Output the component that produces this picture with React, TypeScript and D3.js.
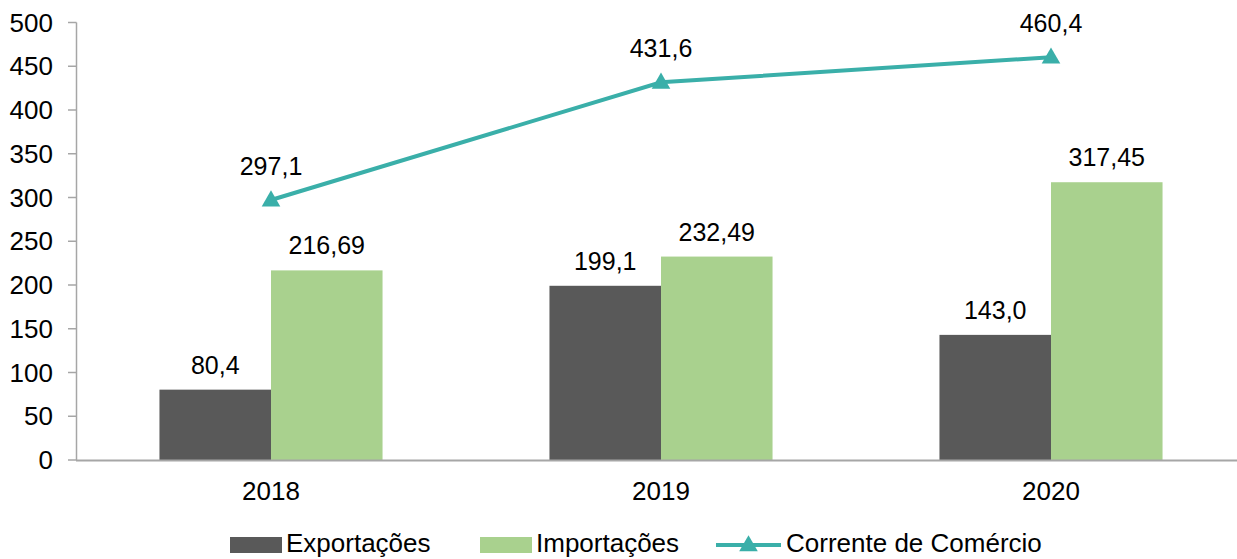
import React from "react";
import * as d3 from "d3";

const categories = ["2018", "2019", "2020"];
const exportacoes = [80.4, 199.1, 143.0];
const importacoes = [216.69, 232.49, 317.45];
const corrente = [297.1, 431.6, 460.4];
const exportLabels = ["80,4", "199,1", "143,0"];
const importLabels = ["216,69", "232,49", "317,45"];
const correnteLabels = ["297,1", "431,6", "460,4"];
const yTicks = [0, 50, 100, 150, 200, 250, 300, 350, 400, 450, 500];
const seriesNames = ["Exportações", "Importações", "Corrente de Comércio"];

const W = 1237;
const H = 559;
const FONT = "'Liberation Sans', Arial, Helvetica, sans-serif";
const C_EXP = "#595959";
const C_IMP = "#A9D18E";
const C_LINE = "#3AAFA9";
const C_AXIS = "#A6A6A6";

export default function App() {
  const x0 = d3
    .scaleBand<string>()
    .domain(categories)
    .range([76, 1246])
    .paddingInner(0.428)
    .paddingOuter(0.214);
  const x1 = d3
    .scaleBand<string>()
    .domain(["exp", "imp"])
    .range([0, x0.bandwidth()]);
  const y = d3.scaleLinear().domain([0, 500]).range([460, 22.5]);
  const cx = (c: string) => (x0(c) as number) + x0.bandwidth() / 2;

  const line = d3
    .line<number>()
    .x((_, i) => cx(categories[i]))
    .y((d) => y(d));

  const tri = d3.symbol().type(d3.symbolTriangle).size(150)();

  return (
    <svg
      width={W}
      height={H}
      style={{ position: "absolute", left: 0, top: 0, background: "#fff" }}
      fontFamily={FONT}
    >
      {/* y axis */}
      <line x1={76.5} x2={76.5} y1={y(500)} y2={y(0)} stroke={C_AXIS} strokeWidth={1.5} />
      {yTicks.map((t) => (
        <g key={t}>
          <line x1={68} x2={76.5} y1={y(t)} y2={y(t)} stroke={C_AXIS} strokeWidth={1.5} />
          <text x={53} y={y(t)} dy="0.35em" textAnchor="end" fontSize={26} fill="#000">
            {t}
          </text>
        </g>
      ))}

      {/* bars */}
      {categories.map((c, i) => (
        <g key={c}>
          <rect
            x={(x0(c) as number) + (x1("exp") as number)}
            y={y(exportacoes[i])}
            width={x1.bandwidth()}
            height={y(0) - y(exportacoes[i])}
            fill={C_EXP}
          />
          <rect
            x={(x0(c) as number) + (x1("imp") as number)}
            y={y(importacoes[i])}
            width={x1.bandwidth()}
            height={y(0) - y(importacoes[i])}
            fill={C_IMP}
          />
          <text
            x={(x0(c) as number) + (x1("exp") as number) + x1.bandwidth() / 2}
            y={y(exportacoes[i]) - 16}
            textAnchor="middle"
            fontSize={25}
            fill="#000"
          >
            {exportLabels[i]}
          </text>
          <text
            x={(x0(c) as number) + (x1("imp") as number) + x1.bandwidth() / 2}
            y={y(importacoes[i]) - 16}
            textAnchor="middle"
            fontSize={25}
            fill="#000"
          >
            {importLabels[i]}
          </text>
          <text x={cx(c)} y={500} textAnchor="middle" fontSize={26} fill="#000">
            {c}
          </text>
        </g>
      ))}

      {/* x axis */}
      <line x1={76} x2={W} y1={y(0) + 0.5} y2={y(0) + 0.5} stroke={C_AXIS} strokeWidth={2} />

      {/* line series */}
      <path d={line(corrente) as string} fill="none" stroke={C_LINE} strokeWidth={4} />
      {corrente.map((v, i) => (
        <g key={i}>
          <path d={tri as string} transform={`translate(${cx(categories[i])},${y(v) + 1})`} fill={C_LINE} />
          <text x={cx(categories[i])} y={y(v) - 25} textAnchor="middle" fontSize={25} fill="#000">
            {correnteLabels[i]}
          </text>
        </g>
      ))}

      {/* legend */}
      <g fontSize={26} fill="#000">
        <rect x={230} y={537} width={52} height={16} fill={C_EXP} />
        <text x={286} y={552}>{seriesNames[0]}</text>
        <rect x={480} y={537} width={52} height={16} fill={C_IMP} />
        <text x={536} y={552}>{seriesNames[1]}</text>
        <line x1={716} x2={781} y1={545} y2={545} stroke={C_LINE} strokeWidth={4} />
        <path d={tri as string} transform={`translate(748.5,546)`} fill={C_LINE} />
        <text x={786} y={552}>{seriesNames[2]}</text>
      </g>
    </svg>
  );
}
